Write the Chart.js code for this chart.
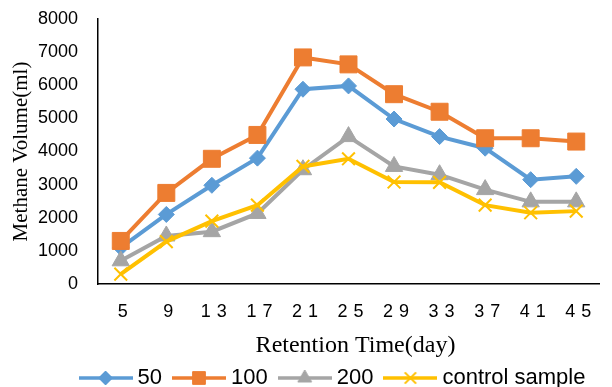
<!DOCTYPE html>
<html>
<head>
<meta charset="utf-8">
<script src="https://cdn.jsdelivr.net/npm/chart.js@4"></script>
<style>
    body { margin: 0; background: #fff; }
    #wrap { width: 612px; height: 387px; }
</style>
</head>
<body>
<div id="wrap"><canvas id="methaneChart" width="612" height="387"></canvas></div>
<script>
// data
const days = ['5', '9', '13', '17', '21', '25', '29', '33', '37', '41', '45'];
const seriesNames = ['50', '100', '200', 'control sample'];
const vol50 = [1100, 2100, 2980, 3800, 5880, 5980, 4980, 4450, 4100, 3150, 3250];
const vol100 = [1300, 2750, 3780, 4500, 6840, 6630, 5730, 5200, 4400, 4400, 4300];
const vol200 = [700, 1450, 1580, 2130, 3450, 4450, 3550, 3300, 2850, 2480, 2480];
const volControl = [300, 1280, 1900, 2380, 3550, 3780, 3080, 3070, 2380, 2150, 2200];
const yTicks = [0, 1000, 2000, 3000, 4000, 5000, 6000, 7000, 8000];

const colors = ['#5B9BD5', '#ED7D31', '#A5A5A5', '#FFC000'];
const markers = ['rectRot', 'rect', 'triangle', 'crossRot'];
const markerSize = [8, 12, 10, 9];
const legendMarkerSize = [7, 9, 8, 8];

// little line + marker picture for each legend entry
function legendIcon(i) {
    const c = document.createElement('canvas');
    c.width = 54;
    c.height = 24;
    const g = c.getContext('2d');
    g.strokeStyle = colors[i];
    g.lineWidth = 3.5;
    g.beginPath();
    g.moveTo(0, 12);
    g.lineTo(54, 12);
    g.stroke();
    g.fillStyle = colors[i];
    g.lineWidth = i === 3 ? 2 : 1;
    Chart.helpers.drawPoint(g, {
        pointStyle: markers[i],
        radius: legendMarkerSize[i],
        borderWidth: g.lineWidth,
        rotation: 0
    }, 27, 12);
    return c;
}

function makeSet(i, values) {
    return {
        label: seriesNames[i],
        data: values,
        borderColor: colors[i],
        backgroundColor: colors[i],
        borderWidth: 4,
        tension: 0,
        pointStyle: markers[i],
        pointRadius: markerSize[i],
        pointHoverRadius: markerSize[i],
        pointBorderWidth: i === 3 ? 2 : 1,
        order: 3 - i
    };
}

// spaced-out x labels, title nudge and legend nudge
const tweaks = {
    id: 'tweaks',
    afterLayout(chart) {
        const lg = chart.legend;
        lg.left += 29;
        lg.right += 29;
        lg.top -= 10;
        lg.bottom = chart.height;
    },
    beforeDraw(chart) {
        const xs = chart.scales.x;
        if (!xs._spaced) {
            const origLabels = xs.drawLabels;
            xs.drawLabels = function (area) {
                this.ctx.save();
                this.ctx.letterSpacing = '6px';
                origLabels.call(this, area);
                this.ctx.restore();
            };
            const origTitle = xs.drawTitle;
            xs.drawTitle = function () {
                this.ctx.save();
                this.ctx.translate(7, 0);
                origTitle.call(this);
                this.ctx.restore();
            };
            xs._spaced = true;
        }
    }
};

document.addEventListener('DOMContentLoaded', function () {
    Chart.defaults.font.family = "'Liberation Sans', Arial, sans-serif";
    Chart.defaults.color = '#000';

    const icons = seriesNames.map((n, i) => legendIcon(i));
    const ctx = document.getElementById('methaneChart').getContext('2d');

    new Chart(ctx, {
        type: 'line',
        data: {
            labels: days,
            datasets: [
                makeSet(0, vol50),
                makeSet(1, vol100),
                makeSet(2, vol200),
                makeSet(3, volControl)
            ]
        },
        options: {
            responsive: false,
            animation: false,
            layout: { padding: { top: 19, left: 0, right: 0, bottom: 0 } },
            scales: {
                x: {
                    offset: true,
                    grid: { display: false, drawTicks: false },
                    border: { display: true, color: '#000', width: 1.5 },
                    ticks: { font: { size: 18 }, padding: 17, labelOffset: 5, autoSkip: false, maxRotation: 0 },
                    title: {
                        display: true,
                        text: 'Retention Time(day)',
                        font: { family: "'Liberation Serif', 'Times New Roman', serif", size: 24, lineHeight: 1 },
                        padding: { top: 0, bottom: 3 }
                    },
                    afterFit(scale) { scale.height = 77; }
                },
                y: {
                    min: 0,
                    max: 8000,
                    afterBuildTicks(scale) { scale.ticks = yTicks.map(v => ({ value: v })); },
                    grid: { display: false, drawTicks: false },
                    border: { display: true, color: '#000', width: 1.5 },
                    ticks: { font: { size: 18 }, padding: 20, callback: v => String(v) },
                    title: {
                        display: true,
                        text: 'Methane Volume(ml)',
                        font: { family: "'Liberation Serif', 'Times New Roman', serif", size: 21 },
                        padding: { top: 9, bottom: 0 }
                    },
                    afterFit(scale) {
                        scale.width = 98;
                        scale.paddingTop = 0;
                        scale.paddingBottom = 0;
                    }
                }
            },
            plugins: {
                tooltip: { enabled: false },
                legend: {
                    position: 'bottom',
                    maxHeight: 26,
                    labels: {
                        usePointStyle: true,
                        pointStyleWidth: 42,
                        padding: 16,
                        font: { size: 22 },
                        generateLabels(chart) {
                            const items = Chart.defaults.plugins.legend.labels.generateLabels(chart);
                            items.sort((a, b) => a.datasetIndex - b.datasetIndex);
                            items.forEach(it => { it.pointStyle = icons[it.datasetIndex]; });
                            return items;
                        }
                    }
                }
            }
        },
        plugins: [tweaks]
    });
});
</script>
</body>
</html>
